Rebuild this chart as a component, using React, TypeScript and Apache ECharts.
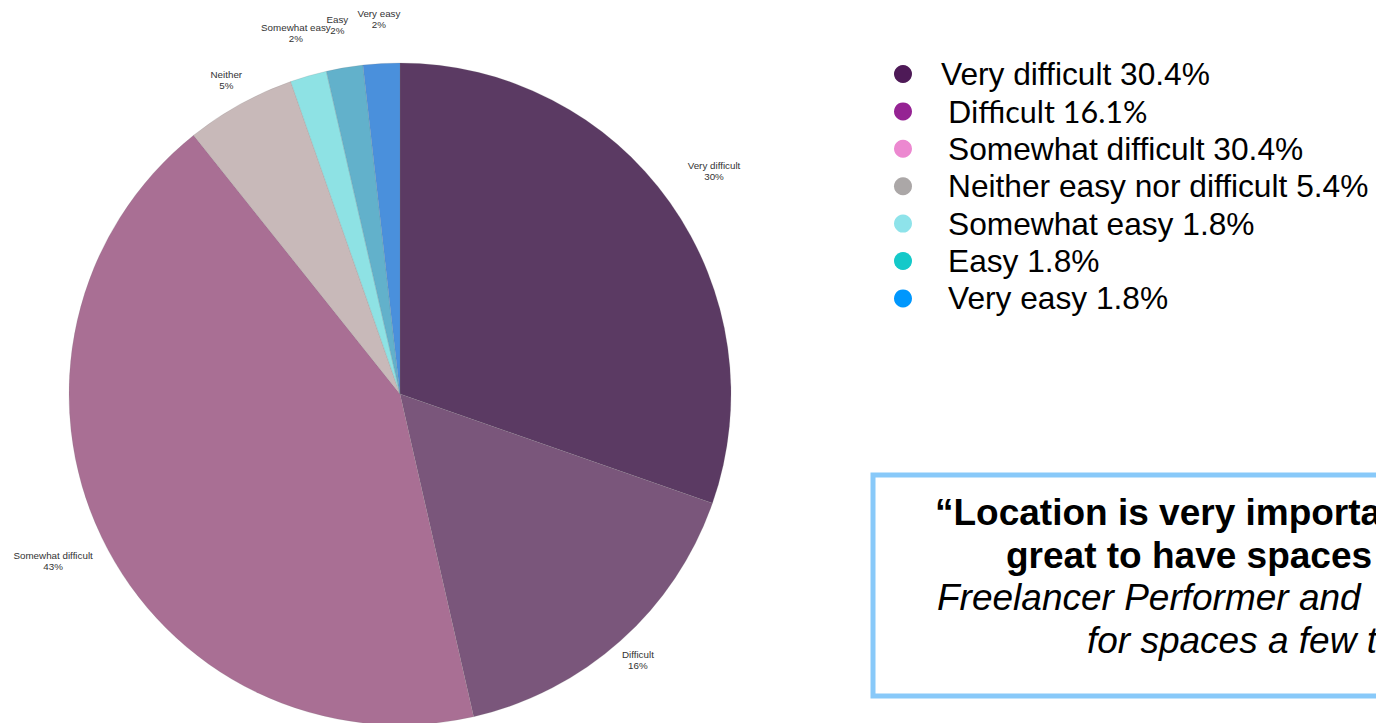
import React, { useEffect, useRef } from "react";
import * as echarts from "echarts";

const categories = ["Very difficult", "Difficult", "Somewhat difficult", "Neither", "Somewhat easy", "Easy", "Very easy"];
const counts = [17, 9, 24, 3, 1, 1, 1];
const sliceColors = ["#5b3a63", "#7a567b", "#a96f94", "#c8b9b9", "#8ee2e4", "#62b1cb", "#4a90dc"];
const labelOffsets = [54, 26, 54, 28, 45, 43, 45];

const legendLabels = [
  "Very difficult 30.4%",
  "Difficult 16.1%",
  "Somewhat difficult 30.4%",
  "Neither easy nor difficult 5.4%",
  "Somewhat easy 1.8%",
  "Easy 1.8%",
  "Very easy 1.8%",
];
const legendColors = ["#4e1a57", "#952393", "#ec88d0", "#aba7a7", "#8ee3ea", "#14c9c9", "#0097fd"];

const quoteBold = ["\u201cLocation is very important", "great to have spaces"];
const quoteItalic = ["Freelancer Performer and", "for spaces a few times"];

export default function App() {
  const ref = useRef<HTMLDivElement>(null);
  useEffect(() => {
    document.body.style.margin = "0";
    const chart = echarts.init(ref.current!, null, { renderer: "svg" });

    const graphics: any[] = [];
    legendLabels.forEach((t, i) => {
      const y = 74 + i * 37.4;
      graphics.push({ type: "circle", shape: { cx: 903, cy: y, r: 9 }, style: { fill: legendColors[i] } });
      graphics.push({
        type: "text",
        x: i === 0 ? 941 : 948,
        y,
        style: {
          text: t,
          fill: "#000",
          font: i === 1 ? "30.5px Lato" : "31.7px 'Liberation Sans', Arial, sans-serif",
          verticalAlign: "middle",
          align: "left",
        },
      });
    });
    graphics.push({
      type: "rect",
      shape: { x: 873, y: 475, width: 560, height: 221 },
      style: { fill: "none", stroke: "#88c9f9", lineWidth: 5 },
    });
    const qx = [935, 1006];
    quoteBold.forEach((t, i) => {
      graphics.push({
        type: "text",
        x: qx[i],
        y: 512 + i * 43,
        style: { text: t, fill: "#000", font: "bold 37px 'Liberation Sans', Arial, sans-serif", verticalAlign: "middle" },
      });
    });
    const ix = [937, 1087];
    quoteItalic.forEach((t, i) => {
      graphics.push({
        type: "text",
        x: ix[i],
        y: 597 + i * 43,
        style: { text: t, fill: "#000", font: "italic 37px 'Liberation Sans', Arial, sans-serif", verticalAlign: "middle" },
      });
    });

    chart.setOption({
      animation: false,
      backgroundColor: "#fff",
      graphic: graphics,
      series: [
        {
          type: "pie",
          center: [400, 394],
          radius: 331,
          startAngle: 90,
          clockwise: true,
          avoidLabelOverlap: false,
          data: categories.map((c, i) => ({
            name: c,
            value: counts[i],
            itemStyle: { color: sliceColors[i] },
            labelLine: { show: false, length: labelOffsets[i], length2: 0 },
          })),
          itemStyle: { borderColor: "rgba(120,120,120,0.35)", borderWidth: 0.5 },
          label: {
            show: true,
            position: "outside",
            distanceToLabelLine: 0,
            formatter: (p: any) => `${p.name}\n${Math.round(p.percent)}%`,
            fontFamily: "'Liberation Sans', Arial, sans-serif",
            fontSize: 9.8,
            lineHeight: 11,
            color: "#333",
          },
          labelLayout: () => ({ align: "center", verticalAlign: "middle" }),
          emphasis: { disabled: true },
        },
      ],
    });
    return () => chart.dispose();
  }, []);
  return <div ref={ref} style={{ width: 1376, height: 723 }} />;
}
